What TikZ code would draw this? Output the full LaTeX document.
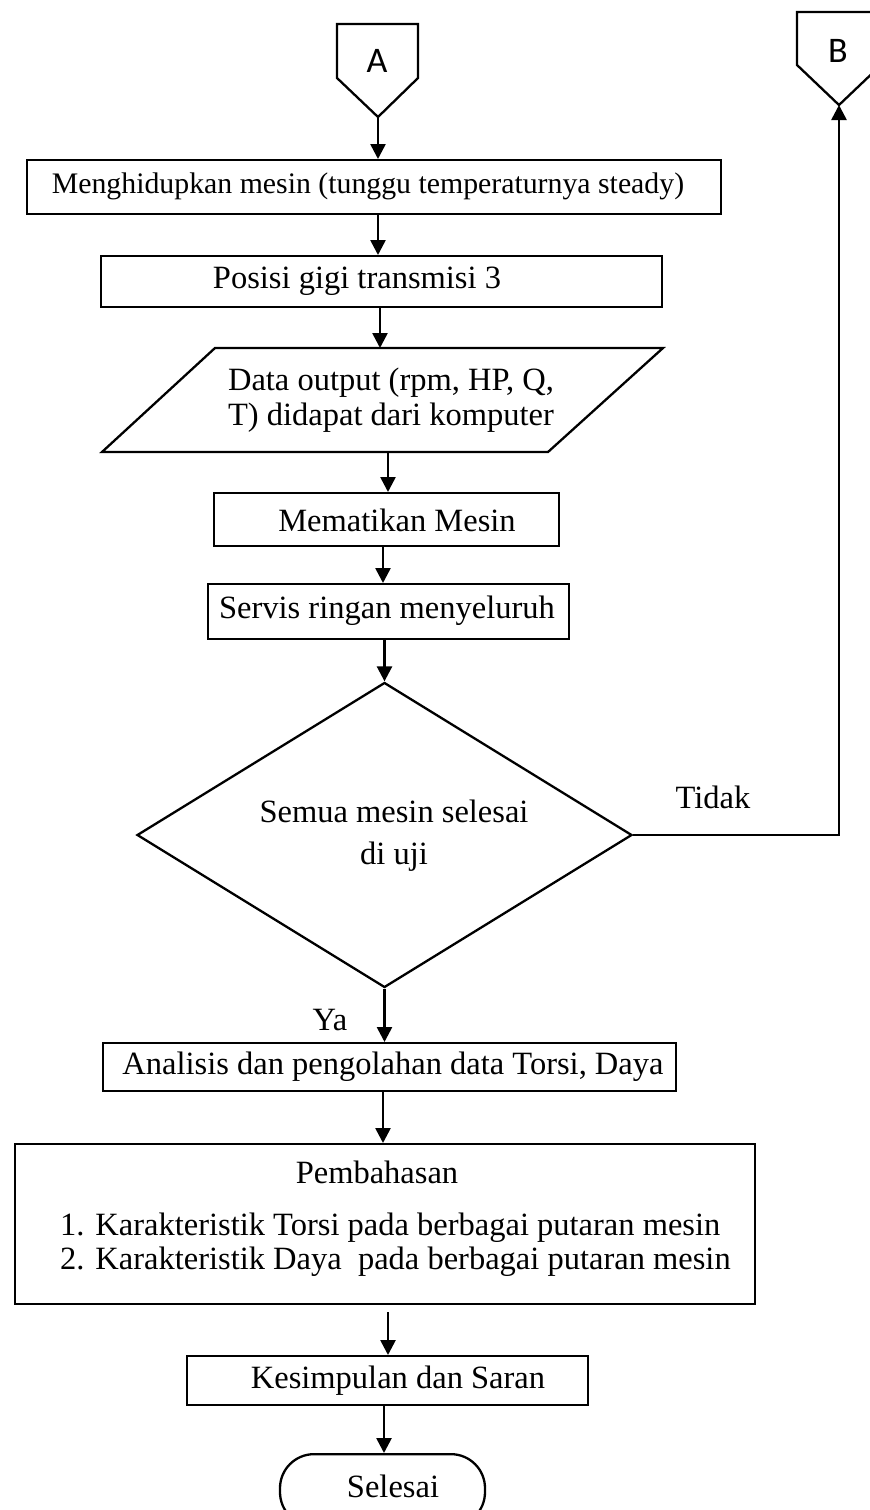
\documentclass[tikz,border=0pt]{standalone}
\usepackage{fontspec}
\setmainfont{Liberation Serif}
\newfontfamily\connfont{Carlito}
\usetikzlibrary{arrows.meta,shapes.geometric,calc}
\begin{document}
\begin{tikzpicture}[x=1pt,y=-1pt,
  box/.style={draw,line width=2.3pt,rectangle,inner sep=0pt,anchor=north west},
  txt/.style={inner sep=0pt,font=\fontsize{32.5}{35}\selectfont},
  conn/.style={inner sep=0pt,font=\connfont\fontsize{36}{40}\selectfont},
  arr/.style={line width=2.6pt,-{Triangle[length=15pt,width=15pt]}},
  shp/.style={line width=2.3pt,line join=miter}]
\useasboundingbox (0,0) rectangle (870,1510);
% connector A
\coordinate (Atl) at (337,24);
\coordinate (Atr) at (418,24);
\coordinate (Ars) at (418,78);
\coordinate (Als) at (337,78);
\coordinate (Atip) at (378,117);
\draw[shp] (Atl) -- (Atr) -- (Ars) -- (Atip) -- (Als) -- cycle;
\node[conn] (A) at (377,61) {A};
% connector B
\coordinate (Btl) at (797,12);
\coordinate (Btr) at (881,12);
\coordinate (Brs) at (881,65);
\coordinate (Bls) at (797,65);
\coordinate (Btip) at (839,105);
\draw[shp] (Btl) -- (Btr) -- (Brs) -- (Btip) -- (Bls) -- cycle;
\node[conn] (B) at (838,51) {B};
% boxes
\node[box,minimum width=694,minimum height=54] (b1) at (26,159) {};
\node[txt,font=\fontsize{29.8}{35}\selectfont] (t1) at (368,186) {Menghidupkan mesin (tunggu temperaturnya steady)};
\node[box,minimum width=561,minimum height=51] (b2) at (100,255) {};
\node[txt] (t2) at (357,281) {Posisi gigi transmisi 3};
% parallelogram
\coordinate (ptl) at (215,348);
\coordinate (ptr) at (663,348);
\coordinate (pbr) at (548,452);
\coordinate (pbl) at (102,452);
\draw[shp] (ptl) -- (ptr) -- (pbr) -- (pbl) -- cycle;
\node[txt,align=center] (p) at (391,400) {Data output (rpm, HP, Q,\\T) didapat dari komputer};
\coordinate (ptop) at (380,348);
\coordinate (pbot) at (388,452);
\node[box,minimum width=345,minimum height=53] (b3) at (213,492) {};
\node[txt] (t3) at (397,520) {Mematikan Mesin};
\node[box,minimum width=361,minimum height=55] (b4) at (207,583) {};
\node[txt] (t4) at (387,611) {Servis ringan menyeluruh};
% decision
\node[draw,shape=diamond,line width=2.3pt,inner sep=0pt,minimum width=495,minimum height=305] (d) at (384.5,835) {};
\node[txt,align=center] (dt) at (394,836) {Semua mesin selesai\\[7pt]di uji};
\node[txt] (tidak) at (713,797) {Tidak};
\node[txt] (ya) at (330,1020) {Ya};
\node[box,minimum width=573,minimum height=48] (b5) at (102,1042) {};
\node[txt] (t5) at (393,1067) {Analisis dan pengolahan data Torsi, Daya};
\node[box,minimum width=740,minimum height=160] (b6) at (14,1143) {};
\node[txt] (t6) at (377,1172) {Pembahasan};
\node[txt,anchor=west] (t6a) at (60,1228) {1. Karakteristik Torsi pada berbagai putaran mesin};
\node[txt,anchor=west] (t6b) at (60,1262) {2. Karakteristik Daya~ pada berbagai putaran mesin};
\node[box,minimum width=401,minimum height=49] (b7) at (186,1355) {};
\node[txt] (t7) at (398,1381) {Kesimpulan dan Saran};
\node[draw,line width=2.3pt,rectangle,rounded corners=34pt,inner sep=0pt,anchor=north,minimum width=205,minimum height=72] (end) at (382.5,1453) {};
\node[txt] (t8) at (393,1486) {Selesai};
% arrows
\draw[arr] (Atip) -- (Atip |- b1.north);
\draw[arr] (b1.south -| 378,0) -- (b2.north -| 378,0);
\draw[arr] (b2.south -| ptop) -- (ptop);
\draw[arr] (pbot) -- (b3.north -| pbot);
\draw[arr] (b3.south -| 383,0) -- (b4.north -| 383,0);
\draw[arr] (b4.south -| d.north) -- (d.north);
\draw[arr] (d.south) -- (b5.north -| d.south);
\draw[arr] (b5.south -| 383,0) -- (b6.north -| 383,0);
\draw[arr] ($(b6.south -| 388,0)+(0,7)$) -- (b7.north -| 388,0);
\draw[arr] (b7.south -| 384,0) -- (end.north -| 384,0);
\draw[arr] (d.east) -- (d.east -| Btip) -- (Btip);
\end{tikzpicture}
\end{document}
